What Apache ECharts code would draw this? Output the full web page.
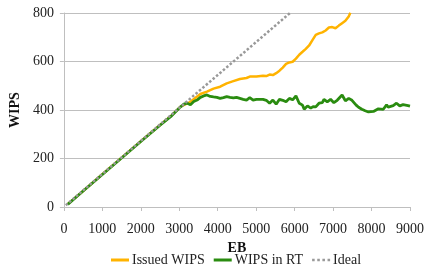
<!DOCTYPE html>
<html>
<head>
<meta charset="utf-8">
<script src="https://cdn.jsdelivr.net/npm/echarts@6/dist/echarts.min.js"></script>
<style>
  html, body { margin: 0; padding: 0; background: #fff; }
  #chart { width: 427px; height: 272px; }
</style>
</head>
<body>
<div id="chart"></div>
<script>
// EB vs WIPS
const issuedWips = [
  [100, 12], [500, 66], [1000, 135], [1500, 203], [2000, 271], [2500, 338],
  [2800, 378], [3034, 414], [3291, 434], [3549, 466], [3720, 476], [3891, 488],
  [4063, 496], [4234, 510], [4406, 519], [4577, 528], [4749, 532], [4834, 538],
  [5006, 538], [5177, 541], [5263, 540], [5349, 546], [5434, 544], [5520, 552],
  [5606, 562], [5691, 575], [5777, 590], [5863, 596], [5949, 599], [6034, 612],
  [6120, 628], [6206, 640], [6291, 652], [6377, 666], [6463, 688], [6549, 710],
  [6634, 716], [6720, 720], [6806, 728], [6891, 740], [6977, 742], [7063, 737],
  [7149, 748], [7234, 758], [7320, 768], [7406, 786], [7449, 801]
];
const wipsInRt = [
  [100, 11], [500, 66], [1000, 134], [1500, 202], [2000, 270], [2500, 337],
  [2800, 376], [3034, 413], [3120, 424], [3206, 428], [3291, 422], [3377, 435],
  [3463, 441], [3549, 452], [3634, 458], [3720, 462], [3806, 456], [3891, 454],
  [3977, 452], [4063, 448], [4149, 451], [4234, 455], [4320, 452], [4406, 450],
  [4491, 452], [4577, 448], [4663, 444], [4749, 441], [4834, 451], [4920, 441],
  [5006, 444], [5091, 444], [5177, 444], [5263, 440], [5349, 428], [5434, 441],
  [5520, 424], [5606, 444], [5691, 440], [5777, 434], [5863, 448], [5949, 442],
  [6034, 458], [6120, 428], [6206, 420], [6249, 403], [6334, 417], [6420, 408],
  [6480, 414], [6549, 413], [6634, 428], [6720, 430], [6763, 444], [6849, 434],
  [6934, 444], [7020, 430], [7106, 440], [7149, 444], [7234, 462], [7320, 438],
  [7406, 448], [7491, 440], [7534, 434], [7600, 420], [7663, 411], [7749, 403],
  [7834, 397], [7920, 392], [7963, 390], [8049, 394], [8091, 397], [8177, 405],
  [8220, 411], [8306, 403], [8391, 421], [8434, 412], [8477, 408], [8563, 418],
  [8649, 428], [8734, 417], [8820, 422], [8863, 428], [8949, 418], [9000, 416]
];
const ideal = [[50, 7], [5880, 800]];

const seriesNames = ['Issued WIPS', 'WIPS in RT', 'Ideal'];
const xTicks = [0, 1000, 2000, 3000, 4000, 5000, 6000, 7000, 8000, 9000];
const yTicks = [0, 200, 400, 600, 800];

const font = "'Times New Roman', 'Liberation Serif', serif";
// dots for the dotted legend key
const dotsIcon = 'path://M0,0h2v2h-2z M4,0h2v2h-2z M8,0h2v2h-2z M12,0h2v2h-2z';

const chart = echarts.init(document.getElementById('chart'));
chart.setOption({
  animation: false,
  textStyle: { fontFamily: font },
  grid: { left: 62, right: 15, top: 13, bottom: 65 },
  legend: {
    bottom: 0,
    left: 106,
    itemWidth: 18,
    itemHeight: 3,
    itemGap: 9,
    textStyle: { fontFamily: font, fontSize: 14, color: '#222', padding: [0, 0, 0, -2] },
    data: [
      { name: seriesNames[0], icon: 'rect' },
      { name: seriesNames[1], icon: 'rect' },
      { name: seriesNames[2], icon: dotsIcon, itemStyle: { color: '#999' } }
    ]
  },
  xAxis: {
    type: 'value',
    min: xTicks[0],
    max: xTicks[xTicks.length - 1],
    interval: 1000,
    name: 'EB',
    nameLocation: 'middle',
    nameGap: 31,
    nameTextStyle: { fontFamily: font, fontWeight: 'bold', fontSize: 14, color: '#111' },
    axisLine: { lineStyle: { color: '#bfbfbf' } },
    axisTick: { show: true, length: 4, lineStyle: { color: '#bfbfbf' } },
    axisLabel: { fontFamily: font, fontSize: 14, color: '#222', margin: 15, formatter: v => String(v) },
    splitLine: { show: false }
  },
  yAxis: {
    type: 'value',
    min: yTicks[0],
    max: yTicks[yTicks.length - 1],
    interval: 200,
    name: 'WIPS',
    nameLocation: 'middle',
    nameGap: 40,
    nameTextStyle: { fontFamily: font, fontWeight: 'bold', fontSize: 14, color: '#111' },
    axisLine: { show: true, lineStyle: { color: '#bfbfbf' } },
    axisTick: { show: true, length: 4, lineStyle: { color: '#bfbfbf' } },
    axisLabel: { fontFamily: font, fontSize: 14, color: '#222', margin: 10, formatter: v => String(v) },
    splitLine: { show: true, lineStyle: { color: '#bfbfbf' } }
  },
  series: [
    {
      name: seriesNames[0],
      type: 'line',
      data: issuedWips,
      showSymbol: false,
      itemStyle: { color: '#ffb300' },
      lineStyle: { color: '#ffb300', width: 2.5 }
    },
    {
      name: seriesNames[1],
      type: 'line',
      data: wipsInRt,
      showSymbol: false,
      itemStyle: { color: '#2a8c10' },
      lineStyle: { color: '#2a8c10', width: 2.8 }
    },
    {
      name: seriesNames[2],
      type: 'line',
      data: ideal,
      showSymbol: false,
      itemStyle: { color: '#999' },
      lineStyle: { color: '#999', width: 2.5, type: [2.5, 2] }
    }
  ]
});
</script>
</body>
</html>
